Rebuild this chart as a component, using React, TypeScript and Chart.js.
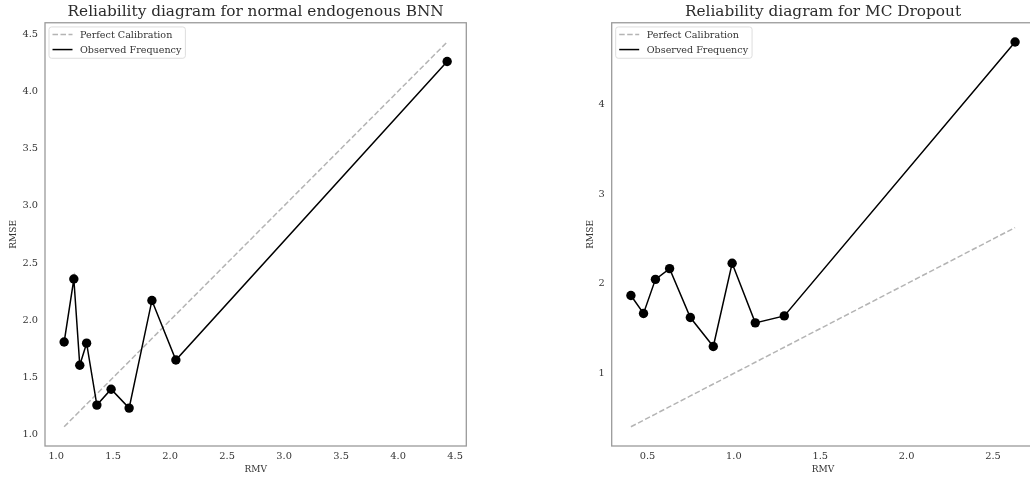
import React, { useEffect, useRef } from "react";
import { Chart, registerables } from "chart.js";

Chart.register(...registerables);

// ---- Data ----
const BNN_TITLE = "Reliability diagram for normal endogenous BNN";
const BNN_RMV = [1.07, 1.155, 1.207, 1.267, 1.357, 1.482, 1.64, 1.84, 2.05, 4.43];
const BNN_RMSE = [1.81, 2.36, 1.607, 1.8, 1.259, 1.398, 1.233, 2.173, 1.653, 4.26];
const BNN_X_TICKS = [1.0, 1.5, 2.0, 2.5, 3.0, 3.5, 4.0, 4.5];
const BNN_Y_TICKS = [1.0, 1.5, 2.0, 2.5, 3.0, 3.5, 4.0, 4.5];

const MC_TITLE = "Reliability diagram for MC Dropout";
const MC_RMV = [0.404, 0.477, 0.546, 0.628, 0.748, 0.881, 0.99, 1.124, 1.292, 2.628];
const MC_RMSE = [1.87, 1.669, 2.05, 2.17, 1.624, 1.3, 2.23, 1.564, 1.642, 4.7];
const MC_X_TICKS = [0.5, 1.0, 1.5, 2.0, 2.5];
const MC_Y_TICKS = [1, 2, 3, 4];

const LABEL_PERFECT = "Perfect Calibration";
const LABEL_OBSERVED = "Observed Frequency";
const X_LABEL = "RMV";
const Y_LABEL = "RMSE";

const FONT = "'DejaVu Serif', 'Liberation Serif', serif";
const TEXT = "#333333";

function bounds(vals: number[]) {
  const lo = Math.min(...vals);
  const hi = Math.max(...vals);
  const m = (hi - lo) * 0.05;
  return { min: lo - m, max: hi + m };
}

const framePlugin = {
  id: "frame",
  afterDatasetsDraw(chart: any) {
    const { ctx, chartArea: a } = chart;
    ctx.save();
    ctx.strokeStyle = "#9a9a9a";
    ctx.lineWidth = 1.3;
    ctx.strokeRect(a.left, a.top, a.right - a.left, a.bottom - a.top);
    ctx.restore();
  },
};

const legendPlugin = {
  id: "innerLegend",
  afterDraw(chart: any) {
    const { ctx, chartArea: a } = chart;
    const ds = chart.data.datasets;
    ctx.save();
    ctx.font = `9.6px ${FONT}`;
    const widths = ds.map((d: any) => ctx.measureText(d.label).width);
    const bx = a.left + 4;
    const by = a.top + 4.2;
    const bw = 31 + Math.max(...widths) + 4;
    const bh = 31.3;
    ctx.fillStyle = "rgba(255,255,255,0.85)";
    ctx.strokeStyle = "#dddddd";
    ctx.lineWidth = 1;
    ctx.beginPath();
    const r = 2.5;
    ctx.moveTo(bx + r, by);
    ctx.lineTo(bx + bw - r, by);
    ctx.arcTo(bx + bw, by, bx + bw, by + r, r);
    ctx.lineTo(bx + bw, by + bh - r);
    ctx.arcTo(bx + bw, by + bh, bx + bw - r, by + bh, r);
    ctx.lineTo(bx + r, by + bh);
    ctx.arcTo(bx, by + bh, bx, by + bh - r, r);
    ctx.lineTo(bx, by + r);
    ctx.arcTo(bx, by, bx + r, by, r);
    ctx.closePath();
    ctx.fill();
    ctx.stroke();
    ds.forEach((d: any, i: number) => {
      const cy = by + 7.6 + i * 15;
      ctx.strokeStyle = d.borderColor;
      ctx.lineWidth = d.borderWidth;
      ctx.setLineDash(d.borderDash || []);
      ctx.beginPath();
      ctx.moveTo(bx + 3.5, cy);
      ctx.lineTo(bx + 23.5, cy);
      ctx.stroke();
      ctx.setLineDash([]);
      ctx.fillStyle = TEXT;
      ctx.textBaseline = "middle";
      ctx.textAlign = "left";
      ctx.fillText(d.label, bx + 31, cy + 0.5);
    });
    ctx.restore();
  },
};

type Cfg = {
  title: string;
  rmv: number[];
  rmse: number[];
  xTicks: number[];
  yTicks: number[];
  yDecimals: number;
  yAxisWidth: number;
  yTitlePad: number;
};

function makeConfig(c: Cfg): any {
  const xb = bounds(c.rmv);
  const yb = bounds([...c.rmv, ...c.rmse]);
  return {
    type: "scatter",
    data: {
      datasets: [
        {
          label: LABEL_PERFECT,
          data: c.rmv.map((v) => ({ x: v, y: v })),
          showLine: true,
          borderColor: "#b4b4b4",
          borderWidth: 1.5,
          borderDash: [5.5, 2.5],
          pointRadius: 0,
          order: 1,
        },
        {
          label: LABEL_OBSERVED,
          data: c.rmv.map((v, i) => ({ x: v, y: c.rmse[i] })),
          showLine: true,
          borderColor: "#000000",
          backgroundColor: "#000000",
          borderWidth: 1.5,
          pointRadius: 4.7,
          pointBackgroundColor: "#000000",
          pointBorderWidth: 0,
          order: 0,
        },
      ],
    },
    options: {
      responsive: false,
      animation: false,
      devicePixelRatio: 1,
      layout: { padding: 0 },
      plugins: {
        legend: { display: false },
        tooltip: { enabled: false },
        title: {
          display: true,
          text: c.title,
          fullSize: false,
          color: "#2b2b2b",
          font: { family: FONT, size: 15.3, weight: "normal", lineHeight: 1.2 },
          padding: { top: 2.4, bottom: 2 },
        },
      },
      scales: {
        x: {
          type: "linear",
          min: xb.min,
          max: xb.max,
          grid: { display: false, drawTicks: false },
          border: { display: false },
          afterBuildTicks: (s: any) => {
            s.ticks = c.xTicks.map((v) => ({ value: v }));
          },
          afterFit: (s: any) => {
            s.height = 33;
          },
          ticks: {
            color: TEXT,
            font: { family: FONT, size: 9.8 },
            padding: 5,
            maxRotation: 0,
            callback: (v: any) => Number(v).toFixed(1),
          },
          title: {
            display: true,
            text: X_LABEL,
            color: TEXT,
            font: { family: FONT, size: 9, lineHeight: 1.2 },
            padding: { top: 0, bottom: 3.6 },
          },
        },
        y: {
          type: "linear",
          min: yb.min,
          max: yb.max,
          grid: { display: false, drawTicks: false },
          border: { display: false },
          afterBuildTicks: (s: any) => {
            s.ticks = c.yTicks.map((v) => ({ value: v }));
          },
          afterFit: (s: any) => {
            s.width = c.yAxisWidth;
          },
          ticks: {
            color: TEXT,
            font: { family: FONT, size: 9.8 },
            padding: 7,
            callback: (v: any) => Number(v).toFixed(c.yDecimals),
          },
          title: {
            display: true,
            text: Y_LABEL,
            color: TEXT,
            font: { family: FONT, size: 9, lineHeight: 1.2 },
            padding: { top: c.yTitlePad, bottom: 0 },
          },
        },
      },
    },
    plugins: [framePlugin, legendPlugin],
  };
}

function Panel(props: { cfg: Cfg; left: number; width: number }) {
  const ref = useRef<HTMLCanvasElement | null>(null);
  useEffect(() => {
    if (!ref.current) return;
    const chart = new Chart(ref.current, makeConfig(props.cfg));
    return () => chart.destroy();
  }, []);
  return (
    <canvas
      ref={ref}
      width={props.width}
      height={479}
      style={{ position: "absolute", left: props.left, top: 0, width: props.width, height: 479 }}
    />
  );
}

export default function App() {
  const bnn: Cfg = {
    title: BNN_TITLE,
    rmv: BNN_RMV,
    rmse: BNN_RMSE,
    xTicks: BNN_X_TICKS,
    yTicks: BNN_Y_TICKS,
    yDecimals: 1,
    yAxisWidth: 45,
    yTitlePad: 8,
  };
  const mc: Cfg = {
    title: MC_TITLE,
    rmv: MC_RMV,
    rmse: MC_RMSE,
    xTicks: MC_X_TICKS,
    yTicks: MC_Y_TICKS,
    yDecimals: 0,
    yAxisWidth: 44.7,
    yTitlePad: 18,
  };
  return (
    <div
      style={{
        position: "fixed",
        left: 0,
        top: 0,
        width: 1030,
        height: 479,
        overflow: "hidden",
        background: "#ffffff",
      }}
    >
      <Panel cfg={bnn} left={0} width={471} />
      <Panel cfg={mc} left={567} width={472} />
    </div>
  );
}
